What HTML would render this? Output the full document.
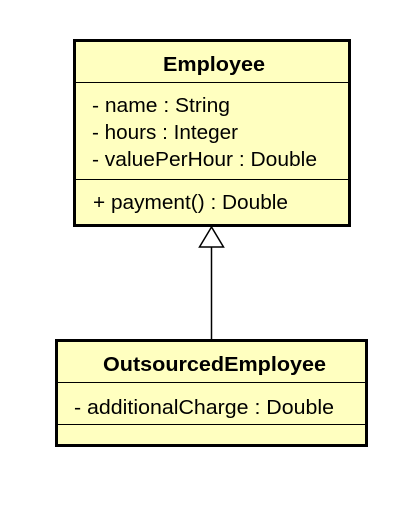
<!DOCTYPE html>
<html><head><style>html,body{margin:0;padding:0;background:#fff;width:420px;height:520px;overflow:hidden}</style></head>
<body>
<svg width="420" height="520" xmlns="http://www.w3.org/2000/svg" font-family="'Liberation Sans', 'DejaVu Sans', sans-serif">
<rect x="74.5" y="40.5" width="275" height="185" fill="#FFFFC0" stroke="#000" stroke-width="3"/>
<line x1="74" y1="82.5" x2="350" y2="82.5" stroke="#000" stroke-width="1"/>
<line x1="74" y1="179.5" x2="350" y2="179.5" stroke="#000" stroke-width="1"/>
<text x="163" y="71" font-weight="bold" font-size="20" textLength="102" lengthAdjust="spacingAndGlyphs">Employee</text>
<text x="92" y="112" font-size="20" textLength="138" lengthAdjust="spacingAndGlyphs">- name : String</text>
<text x="92" y="139" font-size="20" textLength="146" lengthAdjust="spacingAndGlyphs">- hours : Integer</text>
<text x="92" y="166" font-size="20" textLength="225" lengthAdjust="spacingAndGlyphs">- valuePerHour : Double</text>
<text x="93" y="209" font-size="20" textLength="195" lengthAdjust="spacingAndGlyphs">+ payment() : Double</text>
<line x1="211.5" y1="247" x2="211.5" y2="339" stroke="#000" stroke-width="1.5"/>
<polygon points="211.5,227 199.5,247 223.5,247" fill="#fff" stroke="#000" stroke-width="1.5"/>
<rect x="56.5" y="340.5" width="310" height="105" fill="#FFFFC0" stroke="#000" stroke-width="3"/>
<line x1="56" y1="382.5" x2="367" y2="382.5" stroke="#000" stroke-width="1"/>
<line x1="56" y1="424.5" x2="367" y2="424.5" stroke="#000" stroke-width="1"/>
<text x="103" y="371" font-weight="bold" font-size="20" textLength="223" lengthAdjust="spacingAndGlyphs">OutsourcedEmployee</text>
<text x="74" y="414" font-size="20" textLength="260" lengthAdjust="spacingAndGlyphs">- additionalCharge : Double</text>
</svg>
</body></html>
